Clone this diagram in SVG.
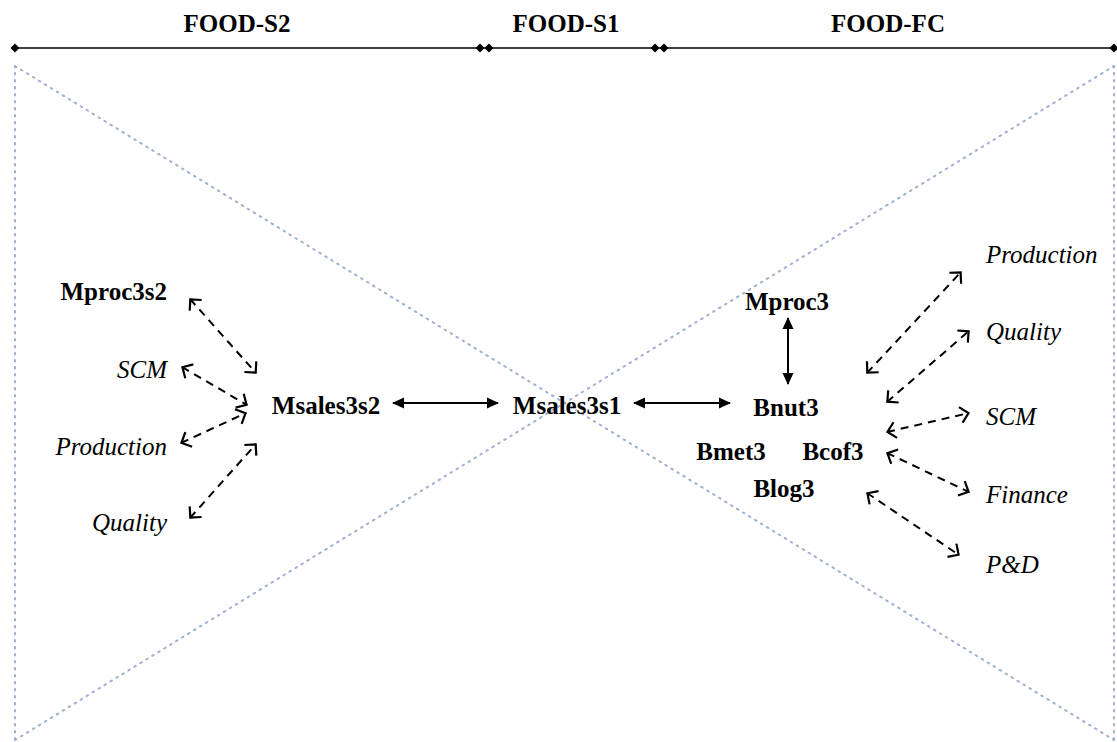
<svg xmlns="http://www.w3.org/2000/svg" width="1117" height="742" viewBox="0 0 1117 742">
  <style>
    .b { font-weight: bold; }
    .i { font-style: italic; }
    .mid { text-anchor: middle; }
    .end { text-anchor: end; }
    .frame { stroke: #9fb0d0; stroke-width: 2; stroke-dasharray: 1.6 5.4; stroke-linecap: round; fill: none; }
    .solid { stroke: #000; stroke-width: 2; fill: none; marker-start: url(#tri); marker-end: url(#tri); }
    .dash { stroke: #000; stroke-width: 2; fill: none; stroke-dasharray: 8 6; marker-start: url(#vee); marker-end: url(#vee); }
  </style>
  <defs>
    <marker id="tri" viewBox="0 0 12 12" refX="11" refY="6" markerWidth="12" markerHeight="12" markerUnits="userSpaceOnUse" orient="auto-start-reverse">
      <path d="M0,0.5 L12,6 L0,11.5 z" fill="#000"/>
    </marker>
    <marker id="vee" viewBox="0 0 12 18" refX="9.5" refY="9" markerWidth="12" markerHeight="18" markerUnits="userSpaceOnUse" orient="auto-start-reverse">
      <path d="M1,1 L9,9 L1,17" fill="none" stroke="#000" stroke-width="2.2"/>
    </marker>
    <path id="dia" d="M0,-4.5 L4.5,0 L0,4.5 L-4.5,0 z" fill="#000"/>
  </defs>

  <rect width="1117" height="742" fill="#fff"/>

  <!-- dotted bow-tie frame -->
  <g id="frame">
    <line class="frame" x1="15" y1="66" x2="15" y2="740"/>
    <line class="frame" x1="1114" y1="66" x2="1114" y2="740"/>
    <line class="frame" x1="15" y1="66" x2="1114" y2="740"/>
    <line class="frame" x1="15" y1="740" x2="1114" y2="66"/>
  </g>

  <!-- section ruler -->
  <g id="ruler">
    <line x1="15" y1="48" x2="1114" y2="48" stroke="#000" stroke-width="1.6"/>
    <use href="#dia" x="15" y="48"/>
    <use href="#dia" x="480" y="48"/>
    <use href="#dia" x="489" y="48"/>
    <use href="#dia" x="655" y="48"/>
    <use href="#dia" x="664" y="48"/>
    <use href="#dia" x="1114" y="48"/>
    <text class="b mid" font-family="'Liberation Serif', serif" font-size="25" x="237" y="32">FOOD-S2</text>
    <text class="b mid" font-family="'Liberation Serif', serif" font-size="25" x="566" y="32">FOOD-S1</text>
    <text class="b mid" font-family="'Liberation Serif', serif" font-size="25" x="888" y="32">FOOD-FC</text>
  </g>

  <!-- connectors -->
  <g id="connectors">
    <line class="solid" x1="393" y1="403" x2="498" y2="403"/>
    <line class="solid" x1="634" y1="403" x2="730" y2="403"/>
    <line class="solid" x1="788" y1="318" x2="788" y2="384"/>

    <line class="dash" x1="190" y1="299" x2="256" y2="373"/>
    <line class="dash" x1="182" y1="367" x2="247" y2="405"/>
    <line class="dash" x1="181" y1="443" x2="246" y2="413"/>
    <line class="dash" x1="190" y1="518" x2="256" y2="444"/>

    <line class="dash" x1="867" y1="373" x2="961" y2="272"/>
    <line class="dash" x1="887" y1="402" x2="969" y2="331"/>
    <line class="dash" x1="887" y1="432" x2="969" y2="413"/>
    <line class="dash" x1="887" y1="453" x2="969" y2="492"/>
    <line class="dash" x1="867" y1="493" x2="959" y2="555"/>
  </g>

  <!-- FOOD-S2 nodes -->
  <g id="Mproc3s2"><text class="b end" font-family="'Liberation Serif', serif" font-size="25" x="167" y="300">Mproc3s2</text></g>
  <g id="SCM-s2"><text class="i end" font-family="'Liberation Serif', serif" font-size="25" x="167" y="378">SCM</text></g>
  <g id="Production-s2"><text class="i end" font-family="'Liberation Serif', serif" font-size="25" x="167" y="455">Production</text></g>
  <g id="Quality-s2"><text class="i end" font-family="'Liberation Serif', serif" font-size="25" x="167" y="531">Quality</text></g>
  <g id="Msales3s2"><text class="b mid" font-family="'Liberation Serif', serif" font-size="25" x="326" y="414">Msales3s2</text></g>

  <!-- FOOD-S1 node -->
  <g id="Msales3s1"><text class="b mid" font-family="'Liberation Serif', serif" font-size="25" x="567" y="414">Msales3s1</text></g>

  <!-- FOOD-FC nodes -->
  <g id="Mproc3"><text class="b mid" font-family="'Liberation Serif', serif" font-size="25" x="787" y="310">Mproc3</text></g>
  <g id="Bnut3"><text class="b mid" font-family="'Liberation Serif', serif" font-size="25" x="786" y="416">Bnut3</text></g>
  <g id="Bmet3"><text class="b mid" font-family="'Liberation Serif', serif" font-size="25" x="731" y="460">Bmet3</text></g>
  <g id="Bcof3"><text class="b mid" font-family="'Liberation Serif', serif" font-size="25" x="833" y="460">Bcof3</text></g>
  <g id="Blog3"><text class="b mid" font-family="'Liberation Serif', serif" font-size="25" x="784" y="497">Blog3</text></g>

  <g id="Production-fc"><text class="i" font-family="'Liberation Serif', serif" font-size="25" x="986" y="263">Production</text></g>
  <g id="Quality-fc"><text class="i" font-family="'Liberation Serif', serif" font-size="25" x="986" y="340">Quality</text></g>
  <g id="SCM-fc"><text class="i" font-family="'Liberation Serif', serif" font-size="25" x="986" y="425">SCM</text></g>
  <g id="Finance-fc"><text class="i" font-family="'Liberation Serif', serif" font-size="25" x="986" y="503">Finance</text></g>
  <g id="PD-fc"><text class="i" font-family="'Liberation Serif', serif" font-size="25" x="986" y="573">P&amp;D</text></g>
</svg>
